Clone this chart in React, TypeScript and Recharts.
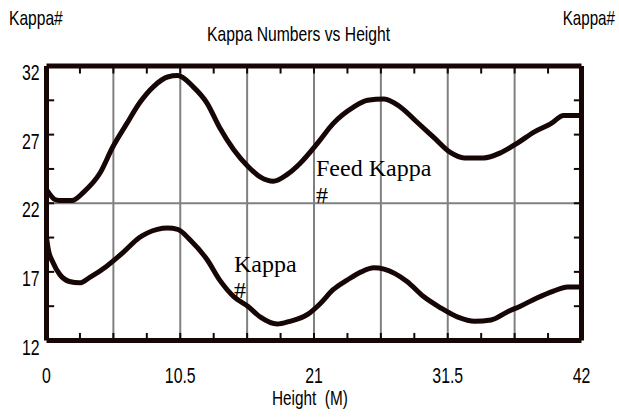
import React from 'react';
import { LineChart, Line, XAxis, YAxis, ReferenceLine } from 'recharts';

// Feed Kappa # (upper curve)
const feedHeight = [0, 0.3, 0.6, 1.0, 2.0, 2.9, 4.2, 5.2, 6.3, 7.3, 8.4, 9.5, 10.3, 11.5, 12.6, 13.6, 14.7, 15.8, 16.8, 17.8, 18.9, 19.9, 21.3, 22.5, 24.1, 25.2, 26.5, 27.8, 29.1, 30.4, 31.7, 32.8, 34.3, 35.7, 37.0, 38.3, 39.6, 40.6, 42];
const feedKappa = [23.0, 22.6, 22.3, 22.2, 22.2, 22.8, 24.2, 26.1, 27.8, 29.3, 30.5, 31.2, 31.3, 30.5, 29.3, 27.5, 25.9, 24.7, 23.9, 23.6, 24.1, 24.9, 26.4, 27.8, 29.0, 29.5, 29.6, 29.0, 27.9, 26.8, 25.7, 25.3, 25.3, 25.7, 26.4, 27.2, 27.8, 28.4, 28.4];

// Kappa # (lower curve)
const pulpHeight = [0, 0.15, 0.5, 1.05, 1.8, 2.6, 3.4, 4.7, 6.0, 7.3, 8.7, 9.5, 10.3, 11.3, 12.6, 13.6, 14.7, 15.8, 16.8, 18.1, 19.1, 20.5, 21.5, 22.5, 23.6, 24.7, 25.7, 26.5, 28.3, 29.6, 30.9, 32.3, 33.6, 34.9, 36.2, 37.2, 38.5, 39.8, 40.9, 42];
const pulpKappa = [19.5, 18.6, 17.7, 16.8, 16.3, 16.2, 16.6, 17.4, 18.4, 19.5, 20.1, 20.2, 20.1, 19.3, 17.9, 16.4, 15.2, 14.5, 13.7, 13.2, 13.4, 13.9, 14.7, 15.7, 16.4, 17.0, 17.3, 17.2, 16.3, 15.2, 14.4, 13.7, 13.4, 13.5, 14.1, 14.5, 15.1, 15.6, 15.9, 15.9];

const xTicks = [0, 2.625, 5.25, 7.875, 10.5, 13.125, 15.75, 18.375, 21, 23.625, 26.25, 28.875, 31.5, 34.125, 36.75, 39.375, 42];
const xLabelTicks = [0, 10.5, 21, 31.5, 42];
const xGrid = [5.25, 10.5, 15.75, 21, 26.25, 31.5, 36.75];
const yTicks = [12, 14.5, 17, 19.5, 22, 24.5, 27, 29.5, 32];
const yLabelTicks = [12, 17, 22, 27, 32];
const yGrid = [22];

const X_MIN = 0;
const X_MAX = 42;
const Y_MIN = 12;
const Y_MAX = 32;

const feedData = feedHeight.map((h, i) => ({ h, v: feedKappa[i] }));
const pulpData = pulpHeight.map((h, i) => ({ h, v: pulpKappa[i] }));

const sans = "'Liberation Sans', Arial, sans-serif";
const serif = "'Liberation Serif', 'Times New Roman', serif";
const ink = '#160606';
const squeeze = 0.72;
// inward tick length, in axis units (about 7px)
const xTickLen = 0.6;
const yTickLen = 0.55;

const hit = (list: number[], v: number) => list.some((t) => Math.abs(t - v) < 1e-6);

// condensed sans text (the original uses a narrow face)
const Narrow = ({ x, y, anchor = 'start', size = 22, sx = squeeze, children }: any) => (
  <text
    transform={`translate(${x},${y}) scale(${sx},1)`}
    textAnchor={anchor}
    fontFamily={sans}
    fontSize={size}
    fill="#000"
  >
    {children}
  </text>
);

const BottomTick = (props: any) => {
  const { x, y, payload } = props;
  if (!hit(xLabelTicks, payload.value)) return <g />;
  return <Narrow x={x} y={y + 42} anchor="middle">{payload.value}</Narrow>;
};

const LeftTick = (props: any) => {
  const { x, y, payload } = props;
  if (!hit(yLabelTicks, payload.value)) return <g />;
  return <Narrow x={x - 7} y={y + 14} anchor="end">{payload.value}</Narrow>;
};

const RightTick = (props: any) => {
  const { x, y, payload } = props;
  if (!hit(yLabelTicks, payload.value)) return <g />;
  return <Narrow x={x + 2} y={y + 14} anchor="start">{payload.value}</Narrow>;
};

const NoTick = () => <g />;

const axisLine = { stroke: ink, strokeWidth: 5 };

export default function App() {
  return (
    <div style={{ position: 'absolute', left: 0, top: 0, width: 619, height: 417, background: '#fff' }}>
      <LineChart width={619} height={417} margin={{ top: 65, right: 0, bottom: 0, left: 0 }}>
        <XAxis
          xAxisId={0}
          dataKey="h"
          type="number"
          domain={[X_MIN, X_MAX]}
          ticks={xTicks}
          interval={0}
          height={76.5}
          axisLine={axisLine}
          tickLine={false}
          tickSize={0}
          tickMargin={0}
          tick={BottomTick}
        />
        <XAxis
          xAxisId="top"
          orientation="top"
          dataKey="h"
          type="number"
          domain={[X_MIN, X_MAX]}
          ticks={xTicks}
          interval={0}
          height={1}
          axisLine={axisLine}
          tickLine={false}
          tick={NoTick}
        />
        <YAxis
          yAxisId={0}
          type="number"
          domain={[Y_MIN, Y_MAX]}
          ticks={yTicks}
          interval={0}
          width={46.5}
          axisLine={axisLine}
          tickLine={false}
          tickSize={0}
          tickMargin={0}
          tick={LeftTick}
        />
        <YAxis
          yAxisId="right"
          orientation="right"
          type="number"
          domain={[Y_MIN, Y_MAX]}
          ticks={yTicks}
          interval={0}
          width={37.5}
          axisLine={axisLine}
          tickLine={false}
          tickSize={0}
          tickMargin={0}
          tick={RightTick}
        />
        {xGrid.map((g) => (
          <ReferenceLine key={'x' + g} x={g} stroke="#808080" strokeWidth={2} />
        ))}
        {yGrid.map((g) => (
          <ReferenceLine key={'y' + g} y={g} stroke="#808080" strokeWidth={2} />
        ))}
        {xTicks.slice(1, -1).map((t) => (
          <ReferenceLine
            key={'bt' + t}
            segment={[{ x: t, y: Y_MIN }, { x: t, y: Y_MIN + yTickLen }]}
            stroke={ink}
            strokeWidth={2}
          />
        ))}
        {xTicks.slice(1, -1).map((t) => (
          <ReferenceLine
            key={'tt' + t}
            segment={[{ x: t, y: Y_MAX }, { x: t, y: Y_MAX - yTickLen }]}
            stroke={ink}
            strokeWidth={2}
          />
        ))}
        {yTicks.slice(1, -1).map((t) => (
          <ReferenceLine
            key={'lt' + t}
            segment={[{ x: X_MIN, y: t }, { x: X_MIN + xTickLen, y: t }]}
            stroke={ink}
            strokeWidth={2}
          />
        ))}
        {yTicks.slice(1, -1).map((t) => (
          <ReferenceLine
            key={'rt' + t}
            segment={[{ x: X_MAX, y: t }, { x: X_MAX - xTickLen, y: t }]}
            stroke={ink}
            strokeWidth={2}
          />
        ))}
        <Line
          data={feedData}
          dataKey="v"
          type="monotone"
          stroke={ink}
          strokeWidth={5}
          dot={false}
          activeDot={false}
          isAnimationActive={false}
        />
        <Line
          data={pulpData}
          dataKey="v"
          type="monotone"
          stroke={ink}
          strokeWidth={5}
          dot={false}
          activeDot={false}
          isAnimationActive={false}
        />
      </LineChart>
      <svg
        width={619}
        height={417}
        style={{ position: 'absolute', left: 0, top: 0, pointerEvents: 'none' }}
      >
        <Narrow x={9} y={25} size={20} sx={0.78}>Kappa#</Narrow>
        <Narrow x={615} y={25} size={20} sx={0.76} anchor="end">Kappa#</Narrow>
        <Narrow x={207} y={41} size={20} sx={0.785}>Kappa Numbers vs Height</Narrow>
        <Narrow x={272} y={405} size={21} sx={0.73}>{'Height\u00a0 (M)'}</Narrow>
        <text x={316} y={176} fontFamily={serif} fontSize={24} fill="#000">Feed Kappa</text>
        <text x={316} y={203} fontFamily={serif} fontSize={24} fill="#000">#</text>
        <text x={234} y={272} fontFamily={serif} fontSize={24} fill="#000">Kappa</text>
        <text x={234} y={298} fontFamily={serif} fontSize={24} fill="#000">#</text>
      </svg>
    </div>
  );
}
